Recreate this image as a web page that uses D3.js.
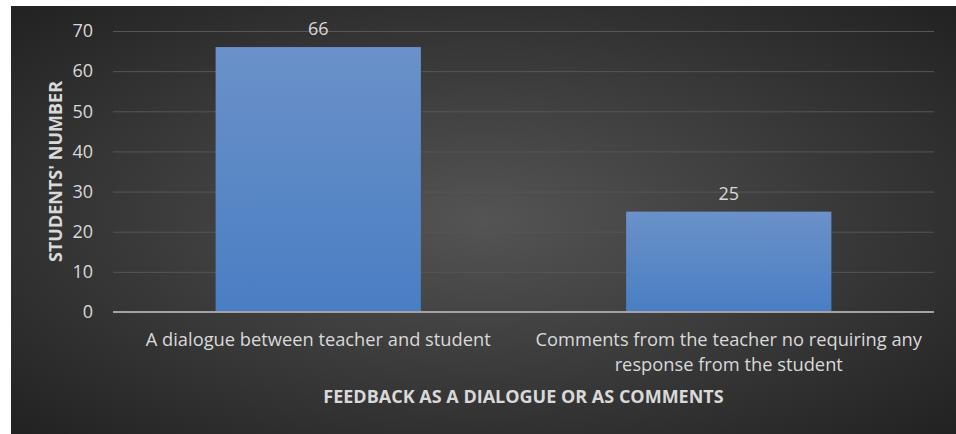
<!DOCTYPE html>
<html lang="en">
<head>
    <meta charset="UTF-8">
    <title>Feedback as a dialogue or as comments</title>
    <script src="https://d3js.org/d3.v7.min.js"></script>
    <style>
        body {
            margin: 0;
            background: #fff;
            font-family: "Open Sans", Arial, sans-serif;
        }
        svg {
            display: block;
        }
    </style>
</head>
<body>

    <div id="container"></div>

    <script>

        // data
        const categories = [
            'A dialogue between teacher and student',
            'Comments from the teacher no requiring any response from the student'
        ];
        const students = [66, 25];
        const yTicks = [0, 10, 20, 30, 40, 50, 60, 70];

        const xTitle = 'FEEDBACK AS A DIALOGUE OR AS COMMENTS';
        const yTitle = "STUDENTS' NUMBER";

        const width = 956;
        const height = 434;

        // plot area
        const plotLeft = 113, plotRight = 934, plotTop = 31, plotBottom = 312;

        const svg = d3.select('#container')
            .append('svg')
            .attr('width', width)
            .attr('height', height);

        const defs = svg.append('defs');

        // dark radial background
        const bg = defs.append('radialGradient')
            .attr('id', 'bg')
            .attr('cx', '50%')
            .attr('cy', '50%')
            .attr('r', '70%');
        bg.append('stop').attr('offset', '0%').attr('stop-color', '#545454');
        bg.append('stop').attr('offset', '100%').attr('stop-color', '#222222');

        // bar gradient
        const barGrad = defs.append('linearGradient')
            .attr('id', 'bar')
            .attr('x1', 0).attr('y1', 0)
            .attr('x2', 0).attr('y2', 1);
        barGrad.append('stop').attr('offset', '0%').attr('stop-color', '#6b91c9');
        barGrad.append('stop').attr('offset', '100%').attr('stop-color', '#497ec3');

        svg.append('rect')
            .attr('x', 11)
            .attr('y', 6)
            .attr('width', width - 11)
            .attr('height', height - 6)
            .attr('fill', 'url(#bg)');

        // scales
        const x = d3.scaleBand()
            .domain(categories)
            .range([plotLeft, plotRight])
            .paddingInner(0.5)
            .paddingOuter(0.25);

        const y = d3.scaleLinear()
            .domain([0, 70])
            .range([plotBottom, plotTop]);

        // y axis with gridlines
        const yAxis = svg.append('g')
            .attr('transform', `translate(${plotLeft},0)`)
            .call(d3.axisLeft(y)
                .tickValues(yTicks)
                .tickSize(-(plotRight - plotLeft))
                .tickPadding(20));

        yAxis.select('.domain').remove();
        yAxis.selectAll('.tick line')
            .attr('stroke', '#565656')
            .attr('stroke-width', 1);
        yAxis.selectAll('.tick text')
            .attr('fill', '#d9d9d9')
            .style('font-size', '18px')
            .style('font-family', '"Open Sans", Arial, sans-serif');

        // bars
        svg.selectAll('.bar')
            .data(students)
            .enter()
            .append('rect')
            .attr('class', 'bar')
            .attr('x', function(d, i){
                return x(categories[i]);
            })
            .attr('y', function(d){
                return y(d);
            })
            .attr('width', x.bandwidth())
            .attr('height', function(d){
                return y(0) - y(d);
            })
            .attr('fill', 'url(#bar)');

        // value labels
        svg.selectAll('.value')
            .data(students)
            .enter()
            .append('text')
            .attr('class', 'value')
            .attr('x', function(d, i){
                return x(categories[i]) + x.bandwidth() / 2;
            })
            .attr('y', function(d){
                return y(d) - 12;
            })
            .attr('text-anchor', 'middle')
            .attr('fill', '#d9d9d9')
            .style('font-size', '18px')
            .text(function(d){
                return d;
            });

        // x axis
        const xAxis = svg.append('g')
            .attr('transform', `translate(0,${plotBottom})`)
            .call(d3.axisBottom(x).tickSize(0).tickPadding(21));

        xAxis.select('.domain').remove();
        xAxis.selectAll('.tick text')
            .attr('fill', '#d9d9d9')
            .style('font-size', '18.3px')
            .style('font-family', '"Open Sans", Arial, sans-serif')
            .call(wrap, x.step() - 10);

        // zero line
        svg.append('line')
            .attr('x1', plotLeft)
            .attr('x2', plotRight)
            .attr('y1', y(0))
            .attr('y2', y(0))
            .attr('stroke', '#a3a3a3')
            .attr('stroke-width', 2);

        // axis titles
        svg.append('text')
            .attr('x', (plotLeft + plotRight) / 2)
            .attr('y', 403)
            .attr('text-anchor', 'middle')
            .attr('fill', '#d9d9d9')
            .style('font-size', '18px')
            .style('font-weight', 'bold')
            .text(xTitle);

        svg.append('text')
            .attr('transform', `translate(62,${(plotTop + plotBottom) / 2}) rotate(-90)`)
            .attr('text-anchor', 'middle')
            .attr('fill', '#d9d9d9')
            .style('font-size', '18px')
            .style('font-weight', 'bold')
            .text(yTitle);

        // break long category names into lines
        function wrap(text, maxWidth) {
            text.each(function(){
                const t = d3.select(this);
                const words = t.text().split(' ');
                const yy = t.attr('y');
                const dy = parseFloat(t.attr('dy'));
                t.text(null);
                let line = [];
                let lineNo = 0;
                let tspan = t.append('tspan').attr('x', 0).attr('y', yy).attr('dy', dy + 'em');
                words.forEach(function(w){
                    line.push(w);
                    tspan.text(line.join(' '));
                    if (tspan.node().getComputedTextLength() > maxWidth && line.length > 1) {
                        line.pop();
                        tspan.text(line.join(' '));
                        line = [w];
                        lineNo++;
                        tspan = t.append('tspan')
                            .attr('x', 0)
                            .attr('y', yy)
                            .attr('dy', (lineNo * 1.37 + dy) + 'em')
                            .text(w);
                    }
                });
            });
        }
    </script>
</body>
</html>
